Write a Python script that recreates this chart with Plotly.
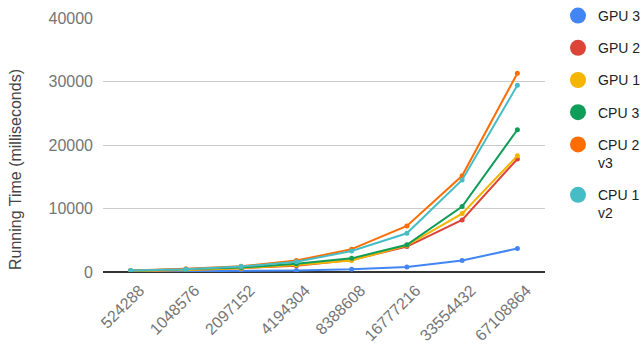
import plotly.graph_objects as go

categories = ["524288", "1048576", "2097152", "4194304", "8388608", "16777216", "33554432", "67108864"]
series_names = ["GPU 3", "GPU 2", "GPU 1", "CPU 3", "CPU 2<br>v3", "CPU 1<br>v2"]
gpu3 = [50, 80, 150, 250, 420, 800, 1800, 3700]
gpu2 = [150, 300, 600, 1000, 1900, 4000, 8200, 17800]
gpu1 = [150, 300, 600, 1100, 1800, 4200, 9200, 18300]
cpu3 = [200, 400, 700, 1300, 2150, 4300, 10300, 22400]
cpu2v3 = [250, 500, 900, 1800, 3600, 7250, 15150, 31300]
cpu1v2 = [250, 450, 850, 1600, 3300, 6100, 14500, 29400]
colors = ["#4285F4", "#DB4437", "#F4B400", "#0F9D58", "#FF6D01", "#46BDC6"]
all_series = [gpu3, gpu2, gpu1, cpu3, cpu2v3, cpu1v2]

fig = go.Figure()
for i, (name, vals, col) in enumerate(zip(series_names, all_series, colors)):
    fig.add_trace(go.Scatter(
        x=categories, y=vals, mode="lines+markers", name=name,
        line=dict(color=col, width=2), marker=dict(color=col, size=5),
        showlegend=False, hoverinfo="skip"))
for i, (name, col) in enumerate(zip(series_names, colors)):
    fig.add_trace(go.Scatter(
        x=[None], y=[None], mode="markers", name=name,
        marker=dict(color=col, size=16), legendgroup=str(i), showlegend=True))

fig.update_layout(
    width=640, height=352,
    margin=dict(l=103, r=95, t=18, b=80, autoexpand=False),
    paper_bgcolor="white", plot_bgcolor="white",
    font=dict(family="Arial, Liberation Sans, sans-serif", size=15, color="#222222"),
    legend=dict(x=558 / 640, y=1.0, xref="container", yref="container",
                xanchor="left", yanchor="top", valign="top",
                font=dict(size=14, color="#222222"), tracegroupgap=11,
                itemsizing="trace", maxheight=1.0),
    xaxis=dict(type="category", range=[-0.5, 7.5], tickangle=-45,
               tickfont=dict(size=16, color="#757575"), showgrid=False,
               showline=False, ticks="", ticklabelshift=9, ticklabelstandoff=5,
               automargin=False),
    yaxis=dict(range=[0, 40000], tickvals=[0, 10000, 20000, 30000, 40000],
               ticktext=["0", "10000", "20000", "30000", "40000"],
               tickfont=dict(size=16, color="#757575"),
               gridcolor="#CCCCCC", gridwidth=1,
               zeroline=True, zerolinecolor="#333333", zerolinewidth=1.5,
               ticks="", showline=False, ticklabelstandoff=9, automargin=False),
    annotations=[dict(text="Running Time (milliseconds)", textangle=-90,
                      xref="paper", yref="paper", x=(15 - 103) / 442, y=(272 - 170) / 254,
                      xanchor="center", yanchor="middle", showarrow=False,
                      font=dict(size=16, color="#444444"))],
)
fig.write_html("out.html")
